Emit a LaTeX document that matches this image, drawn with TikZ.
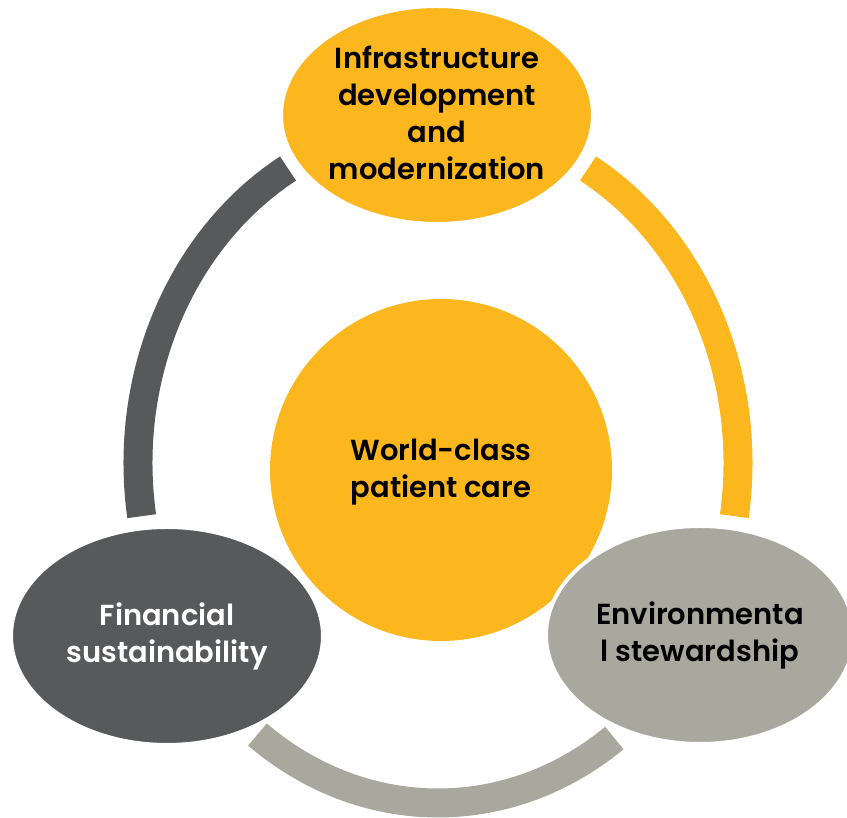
\documentclass[tikz,border=0pt]{standalone}
\usepackage{fontspec}
\setmainfont{Poppins}[BoldFont={Poppins SemiBold}]
\usetikzlibrary{shapes.geometric}

\definecolor{sunny}{RGB}{252,183,30}
\definecolor{slate}{RGB}{88,89,91}
\definecolor{stone}{RGB}{168,168,159}

\begin{document}
\begin{tikzpicture}[x=1pt, y=1pt,
    ring/.style={line width=29pt},
    blob/.style={ellipse, draw=white, line width=4pt, inner sep=0pt},
    txt/.style={align=center, font=\bfseries\fontsize{29}{37}\selectfont}]
  \useasboundingbox (0,0) rectangle (847,818);
  \coordinate (ringc) at (438,355);
  % ring pieces
  \draw[ring, slate] (ringc) ++(120:300 and 340)
    arc[start angle=120, end angle=189, x radius=300, y radius=340];
  \draw[ring, sunny] (ringc) ++(-9:300 and 340)
    arc[start angle=-9, end angle=60, x radius=300, y radius=340];
  \draw[ring, stone] (ringc) ++(233:300 and 340)
    arc[start angle=233, end angle=306, x radius=300, y radius=340];
  % centre
  \node[circle, fill=sunny, minimum size=342pt] (care) at (441,348) {};
  \node[txt] at ([yshift=-2pt]care.center) {World-class\\patient care};
  % outer ellipses
  \node[blob, fill=sunny, minimum width=312pt, minimum height=218pt] (infra) at (437,703) {};
  \node[txt] at ([yshift=2pt]infra.center) {Infrastructure\\development\\and\\modernization};
  \node[blob, fill=slate, minimum width=312pt, minimum height=218pt] (fin) at (167,182) {};
  \node[txt, text=white] at (fin) {Financial\\sustainability};
  \node[blob, fill=stone, minimum width=308pt, minimum height=218pt] (env) at (700,183) {};
  \node[txt] at (env) {Environmenta\\l stewardship};
\end{tikzpicture}
\end{document}
